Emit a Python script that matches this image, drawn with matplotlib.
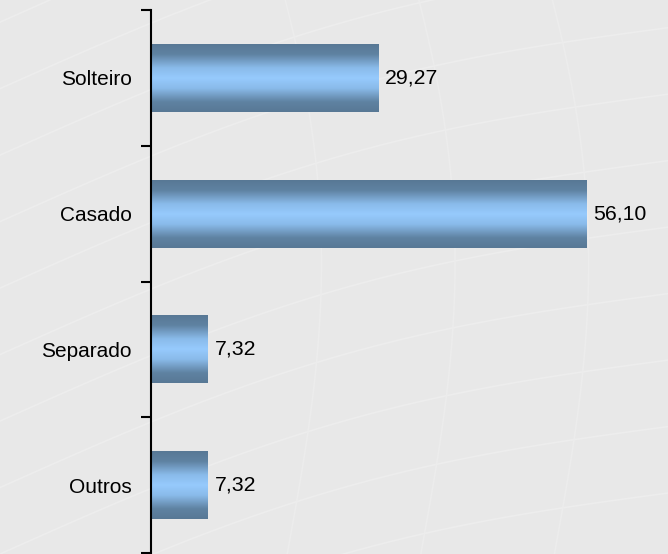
import numpy as np
import matplotlib
matplotlib.use("Agg")
import matplotlib.pyplot as plt
from matplotlib.colors import LinearSegmentedColormap

categories = ["Solteiro", "Casado", "Separado", "Outros"]
values = [29.27, 56.10, 7.32, 7.32]
value_labels = ["29,27", "56,10", "7,32", "7,32"]

plt.rcParams['font.family'] = ['Liberation Sans', 'DejaVu Sans']

fig = plt.figure(figsize=(6.68, 5.54), dpi=100)
fig.patch.set_facecolor('#e8e8e8')

# faint background curves (decorative)
bg = fig.add_axes([0, 0, 1, 1], zorder=0)
bg.set_xlim(0, 1); bg.set_ylim(0, 1); bg.axis('off')
t = np.linspace(0, 1, 200)
for k in range(-6, 10):
    x = t
    y = 0.12 * k + 0.35 * t + 0.06 * np.sin(np.pi * t)
    bg.plot(x, y, color='#ededed', lw=1.2)
for k in range(0, 6):
    x0 = 0.43 + 0.2 * k
    y = t
    x = x0 + 0.08 * np.sin(np.pi * t * 0.8) - 0.05 * t
    bg.plot(x, y, color='#ececec', lw=1.2)

ax = fig.add_axes([151/668, 1/554, 1 - 151/668, (553 - 10)/554], zorder=1)
ax.patch.set_alpha(0)
xmax = (668 - 151) / 7.76
ax.set_xlim(0, xmax)
ax.set_ylim(len(categories) - 0.5, -0.5)

cmap = LinearSegmentedColormap.from_list(
    'barg', [(0.0, '#587895'), (0.15, '#5f82a2'), (0.35, '#8abbea'),
             (0.5, '#96cafd'), (0.65, '#8abbea'), (0.85, '#5f82a2'), (1.0, '#587895')])
grad = np.linspace(0, 1, 256).reshape(-1, 1)
h = 0.5
for i, v in enumerate(values):
    ax.imshow(grad, cmap=cmap, aspect='auto', extent=[0, v, i + h/2, i - h/2],
              interpolation='bilinear', zorder=2)
    ax.text(v + 0.9, i, value_labels[i], va='center', ha='left', fontsize=15.3,
            color='black', zorder=3)

for s in ['top', 'right', 'bottom']:
    ax.spines[s].set_visible(False)
ax.spines['left'].set_linewidth(1.5)
ax.spines['left'].set_color('black')
ax.set_xticks([])
ax.set_yticks(np.arange(-0.5, len(categories), 1.0))
ax.set_yticklabels([])
ax.tick_params(axis='y', which='major', length=7, width=1.5, direction='out')
ax.set_yticks(np.arange(len(categories)), minor=True)
ax.set_yticklabels(categories, minor=True, fontsize=15)
ax.tick_params(axis='y', which='minor', length=0, pad=14)

fig.savefig('out.png', dpi=100, facecolor=fig.get_facecolor())
